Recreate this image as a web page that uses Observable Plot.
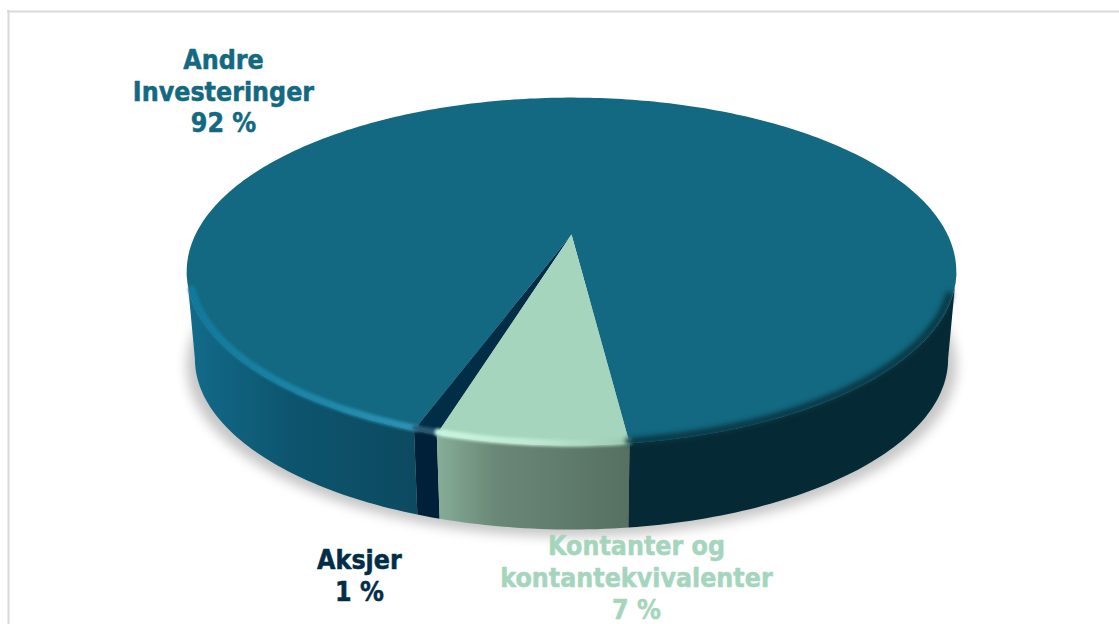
<!DOCTYPE html>
<html><head><meta charset="utf-8">
<script src="https://cdn.jsdelivr.net/npm/d3@7"></script>
<script src="https://cdn.jsdelivr.net/npm/@observablehq/plot@0.6"></script>
<style>html,body{margin:0;padding:0;background:#fff;overflow:hidden}svg{display:block}</style>
</head><body><div id="chart"></div>
<script>
const categories = ["Andre\nInvesteringer", "Aksjer", "Kontanter og\nkontantekvivalenter"];
const shownPercent = [92, 1, 7];
const measuredShare = [92.62, 0.83, 6.55];

const W = 1119, H = 624;
const topRim = {cx: 571, y0: 234, R: 376, Hy: 166};
const baseRim = {cx: 571, y0: 322, R: 368, Hy: 163};
const p = 0.2126; // perspective

// t: degrees clockwise from the viewer-facing point of the rim
function rim(g, t, k = 1) {
  const a = t * Math.PI / 180, u = Math.sin(a) * k, v = Math.cos(a) * k, w = 1 / (1 - p * v);
  return {x: g.cx + g.R * u * w, y: g.y0 + g.Hy * v * w};
}
function arc(g, a, b, k = 1) {
  const n = Math.max(2, Math.ceil(Math.abs(b - a))), o = [];
  for (let i = 0; i <= n; ++i) o.push(rim(g, a + (b - a) * i / n, k));
  return o;
}
const startT = 7;
const sweep = measuredShare.map(s => s * 3.6);
const kontanter = [startT - sweep[2], startT];
const aksjer = [kontanter[0] - sweep[1], kontanter[0]];
const andre = [startT, aksjer[0] + 360];
const centre = {x: topRim.cx, y: topRim.y0};
const wedge = r => [centre, ...arc(topRim, r[0], r[1]), centre];
const side = (a, b) => [...arc(topRim, a, b), ...arc(baseRim, b, a)];
const edgeT = Math.acos(p) * 180 / Math.PI; // where the rim silhouette turns away

const line = (d, fill, extra = {}) => Plot.line(d, {x: "x", y: "y", fill, stroke: "none", curve: "linear", ...extra});
const glow = (a, b, stroke, width, blur, k = 0.992) =>
  Plot.line(arc(topRim, a, b, k), {x: "x", y: "y", stroke, strokeWidth: width, fill: "none", imageFilter: `blur(${blur}px)`});
const label = (r, i, color, dx, dy) => {
  const m = (r[0] + r[1]) / 2;
  const pt = rim(i === 0 ? topRim : baseRim, m);
  return Plot.text([pt], {x: "x", y: "y", dx, dy, text: () => `${categories[i]}\n${shownPercent[i]} %`,
    fill: color, stroke: color, strokeWidth: 0.5, fontSize: 26.5, fontWeight: 700, lineHeight: 1.205, textAnchor: "middle", lineAnchor: "middle",
    fontFamily: "'DejaVu Sans Condensed','DejaVu Sans',sans-serif"});
};

const chart = Plot.plot({
  width: W, height: H, margin: 0,
  style: {background: "transparent", overflow: "hidden"},
  x: {domain: [0, W], range: [0, W], axis: null},
  y: {domain: [0, H], range: [0, H], axis: null},
  marks: [
    Plot.ruleY([11], {x1: 7, x2: W, stroke: "#d9d9d9", strokeWidth: 2}),
    Plot.ruleX([8], {y1: 10, y2: H, stroke: "#d9d9d9", strokeWidth: 2}),
    // drop shadow
    line(arc({...baseRim, y0: baseRim.y0 + 7, R: baseRim.R + 8}, -100, 100), "#c6c6c6", {imageFilter: "blur(6px)"}),
    // sides
    line(side(-edgeT, aksjer[0]), "url(#sideLeft)"),
    line(side(aksjer[0], aksjer[1]), "#001f38"),
    line(side(kontanter[0], kontanter[1]), "url(#sideMint)"),
    line(side(startT, edgeT), "#062a35"),
    // top faces
    line(wedge(andre), "#126981"),
    line(wedge(aksjer), "#022d47"),
    line(wedge(kontanter), "#a5d5bd"),
    // bevels
    glow(-72, aksjer[0], "url(#bevelLeft)", 7, 1.5),
    glow(aksjer[0], aksjer[1], "#2c5a76", 6, 1.5),
    glow(kontanter[0], kontanter[1], "url(#bevelMint)", 7, 1.5),
    glow(startT, 70, "#0a3644", 7, 2.5),
    // labels
    label(andre, 0, "#126981", -382, -8),
    label(aksjer, 1, "#022d47", -69, 58),
    label(kontanter, 2, "#a5d5bd", 104, 48)
  ]
});
chart.insertAdjacentHTML("afterbegin", `<defs>
<linearGradient id="sideLeft" gradientUnits="userSpaceOnUse" x1="190" x2="415" y1="0" y2="0">
<stop offset="0" stop-color="#126b8a"/><stop offset="0.45" stop-color="#0d546e"/><stop offset="1" stop-color="#0c4a60"/></linearGradient>
<linearGradient id="sideMint" gradientUnits="userSpaceOnUse" x1="437" x2="628" y1="0" y2="0">
<stop offset="0" stop-color="#86ad98"/><stop offset="0.3" stop-color="#6a8877"/><stop offset="1" stop-color="#567062"/></linearGradient>
<linearGradient id="bevelLeft" gradientUnits="userSpaceOnUse" x1="190" x2="415" y1="0" y2="0">
<stop offset="0" stop-color="#117a9c"/><stop offset="0.5" stop-color="#1c85a8"/><stop offset="1" stop-color="#2f93b4"/></linearGradient>
<linearGradient id="bevelMint" gradientUnits="userSpaceOnUse" x1="437" x2="628" y1="0" y2="0">
<stop offset="0" stop-color="#c8f4df"/><stop offset="0.5" stop-color="#bfe9d4"/><stop offset="1" stop-color="#9cc9b2"/></linearGradient>
</defs>`);
document.getElementById("chart").append(chart);
</script></body></html>
